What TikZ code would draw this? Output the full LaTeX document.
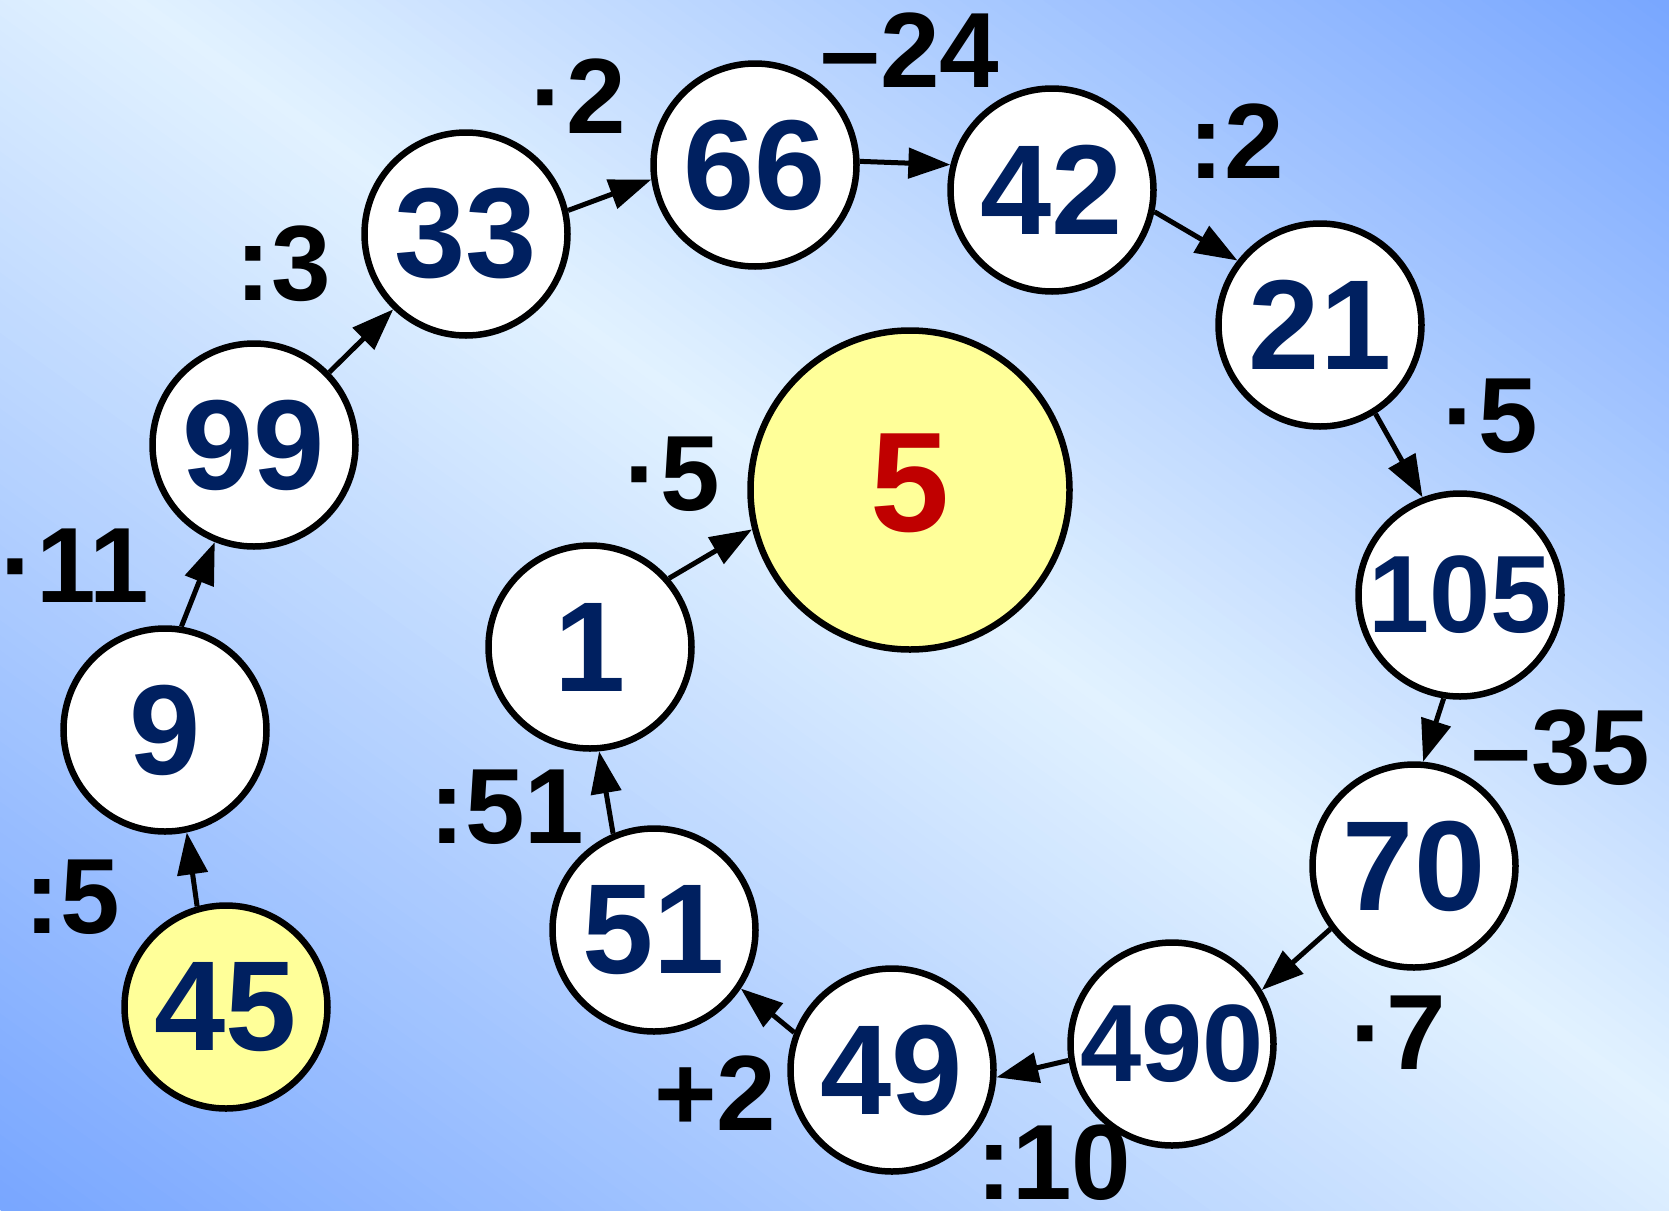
\documentclass[tikz,border=0pt]{standalone}
\usepackage{fontspec}
\setmainfont{Liberation Sans}
\usetikzlibrary{arrows.meta}
\definecolor{bgblue}{RGB}{120,166,255}
\definecolor{bglight}{RGB}{226,242,255}
\definecolor{numblue}{RGB}{0,32,96}
\definecolor{numred}{RGB}{192,0,0}
\definecolor{pale}{RGB}{255,255,153}
\begin{document}
\begin{tikzpicture}[x=1pt,y=-1pt,
  num/.style={circle, draw=black, line width=6.5pt, fill=white, minimum size=203pt, inner sep=0pt,
    font=\fontsize{128}{128}\bfseries\selectfont, text=numblue},
  small/.style={font=\fontsize{110}{110}\bfseries\selectfont},
  yel/.style={fill=pale},
  op/.style={anchor=base, inner sep=0pt, font=\fontsize{107}{107}\bfseries\selectfont, text=black},
  conn/.style={line width=5pt, -{Triangle[length=42pt,width=30pt]}}]
\useasboundingbox (0,0) rectangle (1669,1210);
% background gradient: iso-lines parallel to the top-left/bottom-right diagonal
\begin{scope}
\clip (0,0) rectangle (1669,1210);
\foreach \i in {0,...,159}{
  \pgfmathsetmacro\sa{-1+\i/80}
  \pgfmathsetmacro\sb{\sa+1.6/80}
  \pgfmathsetmacro\sm{\sa+0.5/80}
  \pgfmathsetmacro\p{\sm<0.08 ? 100*(0.08-\sm)/1.08 : 100*(\sm-0.08)/0.92}
  \pgfmathsetmacro\xa{1669*\sa}
  \pgfmathsetmacro\xb{1669*\sb}
  \fill[bgblue!\p!bglight]
    (\xa-41.4,-30) -- (\xb-41.4,-30) -- (\xb+1710.4,1240) -- (\xa+1710.4,1240) -- cycle;
}
\end{scope}

\node[num,yel] (n45) at (226,1007) {45};
\node[num] (n9) at (165,730) {9};
\node[num] (n99) at (254,445) {99};
\node[num] (n33) at (466,234) {33};
\node[num] (n66) at (755,165) {66};
\node[num] (n42) at (1052,190) {42};
\node[num] (n21) at (1320,325) {21};
\node[num,small] (n105) at (1460,595) {\makebox[0pt]{105}};
\node[num] (n70) at (1414,866) {70};
\node[num,small] (n490) at (1172,1044) {\makebox[0pt]{490}};
\node[num] (n49) at (892,1070) {49};
\node[num] (n51) at (654,930) {51};
\node[num] (n1) at (590,647) {1};
\node[num,yel,minimum size=319pt,text=numred,font=\fontsize{142}{142}\bfseries\selectfont] (n5) at (910,490) {\raisebox{14pt}{5}};

\draw[conn] (n45.106) -- (n9.-78);
\draw[conn] (n9.81) -- (n99.-112);
\draw[conn] (n99.44) -- (n33.-134);
\draw[conn] (n33.13) -- (n66.188);
\draw[conn] (n66.2) -- (n42.166);
\draw[conn] (n42.-12) -- (n21.142);
\draw[conn] (n21.-58) -- (n105.111);
\draw[conn] (n105.-99) -- (n70.85);
\draw[conn] (n70.-143) -- (n490.31);
\draw[conn] (n490.-171) -- (n49.-4);
\draw[conn] (n49.159) -- (n51.-34);
\draw[conn] (n51.113) -- (n1.-85);
\draw[conn] (n1.41) -- (n5.194);

\node[op] (l1) at (72,933) {:5};
\node[op] (l2) at (75,602) {·11};
\node[op] (l3) at (283,300) {:3};
\node[op] (l4) at (578,133) {·2};
\node[op] (l5) at (910,87) {–24};
\node[op] (l6) at (1236,178) {:2};
\node[op] (l7) at (1490,452) {·5};
\node[op] (l8) at (1561,784) {–35};
\node[op] (l9) at (1398,1069) {·7};
\node[op] (l10) at (1054,1199) {:10};
\node[op] (l11) at (715,1130) {+2};
\node[op] (l12) at (507,843) {:51};
\node[op] (l13) at (672,510) {·5};
\end{tikzpicture}
\end{document}
